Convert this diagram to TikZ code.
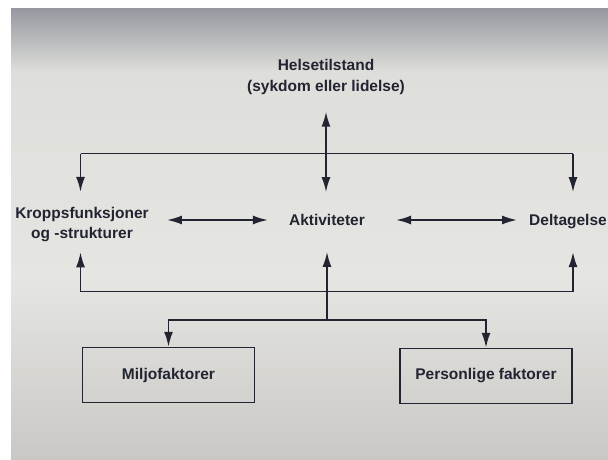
\documentclass[tikz,border=0pt]{standalone}
\usepackage{fontspec}
\setmainfont{Liberation Sans}
\usetikzlibrary{arrows.meta}

\definecolor{ink}{RGB}{35,36,50}
\definecolor{ptop}{RGB}{150,153,160}
\definecolor{plight}{RGB}{222,222,218}
\definecolor{pmid}{RGB}{229,229,225}
\definecolor{pbot}{RGB}{202,200,196}
\pgfdeclareverticalshading{photo}{100bp}{color(0bp)=(pbot); color(25bp)=(pbot); color(45bp)=(pmid); color(68bp)=(plight); color(75bp)=(ptop); color(100bp)=(ptop)}

\begin{document}
\begin{tikzpicture}[x=1pt, y=1pt, node distance=246pt]

%styles
\tikzstyle{term} = [text=ink, font=\bfseries\fontsize{15.5}{20.5}\selectfont, align=center, inner sep=3pt]
\tikzstyle{factor} = [term, draw=ink, line width=1.5pt, rectangle, minimum width=172pt, minimum height=55pt]
\tikzstyle{conn} = [draw=ink, line width=1.8pt]
\tikzstyle{pil} = [conn, -{Latex[length=15pt,width=9pt]}]
\tikzstyle{dblpil} = [conn, {Latex[length=15pt,width=9pt]}-{Latex[length=15pt,width=9pt]}]

%background
\useasboundingbox (0,0) rectangle (608,459);
\fill[white] (0,0) rectangle (608,459);
\shade[shading=photo] (11,0) rectangle (608,450);

%nodes
\node (aktiv) [term] at (327,239) {Aktiviteter};
\node (helse) [term, above of=aktiv, xshift=-1pt, yshift=-103pt] {Helsetilstand\\(sykdom eller lidelse)};
\node (kropp) [term, left of=aktiv, xshift=1pt, yshift=-4.6pt] {Kroppsfunksjoner\\og -strukturer};
\node (delta) [term, right of=aktiv, xshift=-5pt, yshift=-1.6pt] {Deltagelse};
\node (milj) [factor, below of=aktiv, xshift=-158.5pt, yshift=91pt] {Miljofaktorer};
\node (pers) [factor, right of=milj, xshift=71.5pt, yshift=-1pt] {Personlige faktorer};

%junctions
\coordinate (topL) at (80.5,305.5);
\coordinate (topR) at (573,305.5);
\coordinate (botL) at (80.5,167.5);
\coordinate (botR) at (573,167.5);
\coordinate (botC) at (327,167.5);
\coordinate (facC) at (327,139);

%upper bar
\draw[conn] (topL) -- (topR);
\draw[pil, shorten >=12pt] (topL) -- (topL |- kropp.north);
\draw[pil, shorten >=19pt] (topR) -- (topR |- delta.north);
\draw[dblpil, shorten <=14pt, shorten >=19pt] (helse.south) -- (helse.south |- aktiv.north);

%middle row
\draw[dblpil, shorten <=15pt, shorten >=18pt] (kropp.east |- aktiv) -- (aktiv.west);
\draw[dblpil, shorten <=28pt, shorten >=9pt] (aktiv.east) -- (delta.west |- aktiv);

%lower bar
\draw[conn] (botL) -- (botR);
\draw[pil, shorten >=7pt] (botL) -- (botL |- kropp.south);
\draw[pil, shorten >=23pt] (botC) -- (aktiv.south);
\draw[pil, shorten >=20pt] (botR) -- (botR |- delta.south);

%factors
\draw[conn] (botC) -- (facC);
\draw[pil] (facC) -| (milj.north);
\draw[pil] (facC) -| (pers.north);

\end{tikzpicture}
\end{document}
